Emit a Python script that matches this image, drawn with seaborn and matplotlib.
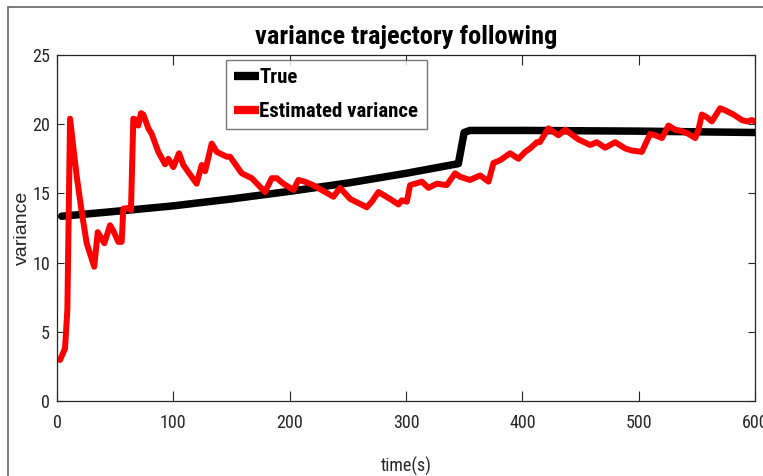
import numpy as np
import pandas as pd
import matplotlib
matplotlib.use("Agg")
import matplotlib.pyplot as plt
from matplotlib import font_manager
from matplotlib.patches import Rectangle
import seaborn as sns

# ---- data ----
true_t = [4, 50, 100, 150, 200, 250, 300, 345, 350, 355, 400, 500, 600]
true_v = [13.35, 13.7, 14.1, 14.6, 15.15, 15.75, 16.45, 17.15, 19.4, 19.55, 19.55, 19.5, 19.4]

est_t = [2.6, 6.9, 8.9, 11.2, 17, 21, 25.5, 32, 35, 40.7, 45.6, 48.4, 52.7, 55.6, 57, 61.3,
         63.6, 65.6, 68.5, 69.9, 72.2, 74.2, 78.5, 81.4, 87.1, 92.9, 95.7, 100, 104.9, 108.6,
         120, 124.4, 127.3, 133, 137.3, 145.9, 148.8, 158.8, 167.4, 178.8, 184.6, 188.9, 194.6,
         203.2, 207.5, 213, 220, 237.6, 243.3, 252, 266.3, 270.6, 276.3, 286.3, 293.5, 296.4,
         300.7, 303.5, 307.8, 313.6, 319.3, 326.5, 335, 342.2, 346.5, 355, 363.7, 370.9, 375.2,
         381, 389.5, 396.7, 402.4, 406.7, 412.5, 415, 422.4, 431, 436.8, 448.2, 458.3, 464,
         471.2, 479.8, 488.4, 494, 502.7, 509.9, 514.2, 520, 525.6, 531.4, 537.1, 542.8, 548.6,
         551.4, 554.3, 558.6, 562.9, 570, 574.4, 581.5, 588.7, 593, 597.3, 600]
est_v = [2.96, 3.8, 6.6, 20.4, 16.2, 13.8, 11.4, 9.7, 12.2, 11.4, 12.7, 12.3, 11.5, 11.5, 13.9, 13.95,
         13.8, 20.4, 20.3, 19.9, 20.8, 20.7, 19.7, 19.3, 18.0, 17.1, 17.5, 16.9, 17.9, 17.05,
         15.7, 17.05, 16.6, 18.6, 18.0, 17.65, 17.65, 16.45, 16.1, 15.1, 16.1, 16.1, 15.7,
         15.25, 15.97, 15.85, 15.6, 14.76, 15.4, 14.6, 14.0, 14.4, 15.1, 14.6, 14.2, 14.5,
         14.4, 15.6, 15.7, 15.85, 15.4, 15.7, 15.6, 16.45, 16.2, 15.97, 16.3, 15.85, 17.2,
         17.4, 17.9, 17.5, 18.0, 18.25, 18.7, 18.7, 19.7, 19.2, 19.6, 18.9, 18.5, 18.7,
         18.3, 18.7, 18.25, 18.1, 18.0, 19.3, 19.2, 19.0, 19.9, 19.6, 19.5, 19.3, 19.0,
         19.6, 20.7, 20.5, 20.2, 21.15, 21.0, 20.7, 20.3, 20.2, 20.3, 20.2]

x_ticks = [0, 100, 200, 300, 400, 500, 600]
y_ticks = [0, 5, 10, 15, 20, 25]

title = "variance trajectory following"
xlabel = "time(s)"
ylabel = "variance"

# ---- style ----
sns.set_theme(style="ticks")
names = {f.name for f in font_manager.fontManager.ttflist}
cond = next((n for n in ["Roboto Condensed", "Archivo Narrow", "PT Sans Narrow", "Liberation Sans"]
             if n in names), "DejaVu Sans")
regular = "Liberation Sans" if "Liberation Sans" in names else "DejaVu Sans"
plt.rcParams["font.family"] = [cond, "DejaVu Sans"]

fig = plt.figure(figsize=(7.63, 4.76), dpi=100)
fig.patch.set_facecolor("white")
ax = fig.add_axes([57 / 763, 1 - 401 / 476, (755 - 57) / 763, (401 - 55) / 476])

df_true = pd.DataFrame({"t": true_t, "v": true_v})
df_est = pd.DataFrame({"t": est_t, "v": est_v})
sns.lineplot(data=df_true, x="t", y="v", ax=ax, color="black", linewidth=5.4,
             label="True", sort=False, estimator=None)
sns.lineplot(data=df_est, x="t", y="v", ax=ax, color="#ff0000", linewidth=4.3,
             label="Estimated variance", sort=False, estimator=None)

ax.set_xlim(0, 600)
ax.set_ylim(0, 25)
ax.set_xticks(x_ticks)
ax.set_yticks(y_ticks)
ax.set_xticklabels([str(v) for v in x_ticks])
ax.set_yticklabels([str(v) for v in y_ticks])
ax.tick_params(axis="both", direction="in", top=True, right=True, labelsize=13,
               colors="#262626", width=0.8)
ax.tick_params(axis="x", length=7, pad=9)
ax.tick_params(axis="y", length=5, pad=5)
for s in ax.spines.values():
    s.set_color("#262626")
    s.set_linewidth(0.9)
    s.set_visible(True)

ax.set_xlabel(xlabel, fontsize=13, color="#262626", labelpad=18)
ax.set_ylabel(ylabel, fontsize=14, color="#262626", labelpad=1, family=[regular, "DejaVu Sans"])
ax.set_title(title, fontsize=19, fontweight="bold", color="black", pad=8)

leg = ax.legend(loc="upper left", bbox_to_anchor=(226 / 763, 1 - 60 / 476),
                bbox_transform=fig.transFigure, frameon=True, fancybox=False,
                prop={"weight": "bold", "size": 15, "family": [cond, "DejaVu Sans"]},
                handlelength=1.2, handletextpad=0.0, borderpad=0.4, labelspacing=0.7,
                borderaxespad=0)
leg.get_frame().set_edgecolor("#555555")
leg.get_frame().set_linewidth(1.0)
for h in leg.get_lines():
    h.set_linewidth(6)
    h.set_solid_capstyle("butt")
for t in leg.get_texts():
    t.set_color("black")

# figure frame
fig.add_artist(Rectangle((8 / 763, -0.1), 1.2, 1 - 7 / 476 + 0.1, transform=fig.transFigure,
                         fill=False, edgecolor="#666666", linewidth=1.2))

fig.savefig("out.png", dpi=100)
